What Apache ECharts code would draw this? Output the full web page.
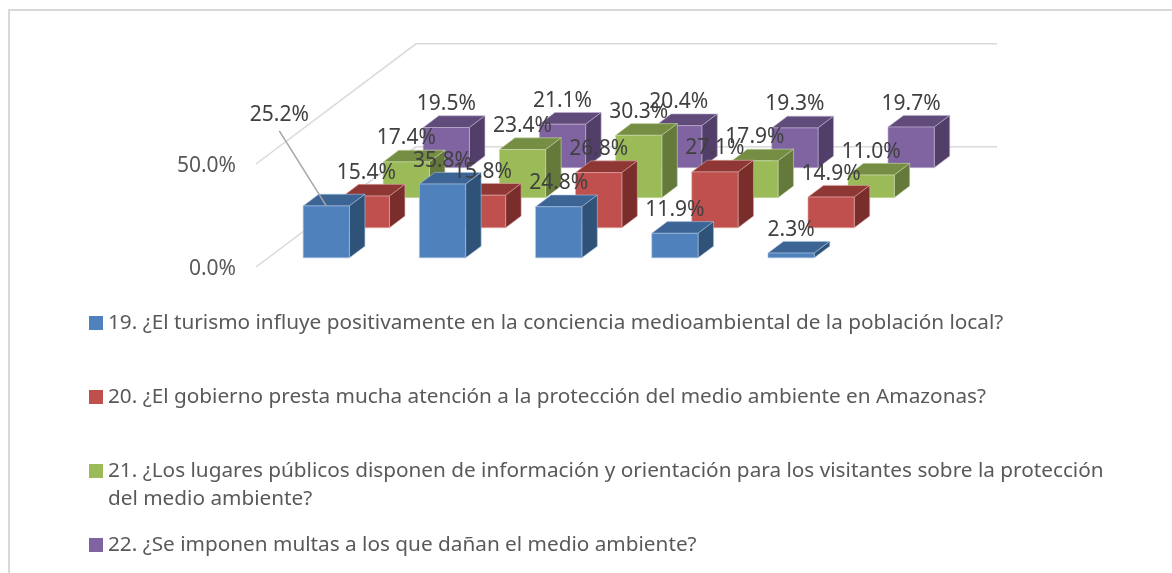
<!DOCTYPE html>
<html>
<head>
<meta charset="utf-8">
<style>html,body{margin:0;padding:0;background:#fff}#c{width:1172px;height:573px}</style>
<script src="https://cdn.jsdelivr.net/npm/echarts@6/dist/echarts.min.js"></script>
</head>
<body>
<div id="c"></div>
<script>
const categories = ['A', 'B', 'C', 'D', 'E'];
const q19 = [25.2, 35.8, 24.8, 11.9, 2.3];
const q20 = [15.4, 15.8, 26.8, 27.1, 14.9];
const q21 = [17.4, 23.4, 30.3, 17.9, 11.0];
const q22 = [19.5, 21.1, 20.4, 19.3, 19.7];
const legendLines = [
  ['19. ¿El turismo influye positivamente en la conciencia medioambiental de la población local?'],
  ['20. ¿El gobierno presta mucha atención a la protección del medio ambiente en Amazonas?'],
  ['21. ¿Los lugares públicos disponen de información y orientación para los visitantes sobre la protección', 'del medio ambiente?'],
  ['22. ¿Se imponen multas a los que dañan el medio ambiente?']
];
const valueTicks = [0, 50];

const seriesValues = [q19, q20, q21, q22];
const names = legendLines.map(l => l.join(' '));
const faces = ['#4f81bd', '#c0504d', '#9bbb59', '#8064a2'];
const tops = ['#3c6494', '#8e3735', '#758e43', '#604b7b'];
const sides = ['#2f5279', '#7a2e2c', '#64793a', '#523f69'];
const edges = ['#a9c2e0', '#dfa9a7', '#cddcac', '#bfb1d0'];
const STEP_X = 40, STEP_Y = 30.05, BOX_X = 15.5, BOX_Y = 11.7, BAR_RATIO = 0.398;
const FONT = '"Noto Sans", sans-serif';

function base(i) {
  const halfGapY = (STEP_Y - BOX_Y) / 2;
  return [STEP_X * i + halfGapY * STEP_X / STEP_Y, -(STEP_Y * i + halfGapY)];
}

function barSeries(i) {
  return {
    type: 'custom', name: names[i], z: 10 - i, silent: true,
    itemStyle: { color: faces[i] },
    encode: { x: 0, y: 1 },
    data: seriesValues[i].map((v, c) => [c, v]),
    renderItem(params, api) {
      const b = base(i);
      const w = api.size([1, 0])[0] * BAR_RATIO;
      const p0 = api.coord([api.value(0), 0]);
      const p1 = api.coord([api.value(0), api.value(1)]);
      const x0 = p0[0] - w / 2 + b[0], x1 = x0 + w;
      const yb = p0[1] + b[1], yt = p1[1] + b[1];
      const st = c => ({ fill: c, stroke: edges[i], lineWidth: 0.6, opacity: 1 });
      return {
        type: 'group',
        children: [
          { type: 'polygon', shape: { points: [[x0, yt], [x1, yt], [x1 + BOX_X, yt - BOX_Y], [x0 + BOX_X, yt - BOX_Y]] }, style: st(tops[i]) },
          { type: 'polygon', shape: { points: [[x1, yt], [x1 + BOX_X, yt - BOX_Y], [x1 + BOX_X, yb - BOX_Y], [x1, yb]] }, style: st(sides[i]) },
          { type: 'rect', shape: { x: x0, y: yt, width: w, height: yb - yt }, style: st(faces[i]) }
        ]
      };
    }
  };
}

function labelSeries(i) {
  return {
    type: 'custom', name: 'labels' + i, z: 20 + i, silent: true,
    encode: { x: 0, y: 1 },
    data: seriesValues[i].map((v, c) => [c, v]),
    renderItem(params, api) {
      const b = base(i);
      const p1 = api.coord([api.value(0), api.value(1)]);
      const cx = p1[0] + b[0], ty = p1[1] + b[1];
      const moved = i === 0 && api.value(0) === 0;
      const lx = moved ? cx - 47 : cx, ly = moved ? ty - 92 : ty - 25;
      const children = [{
        type: 'text',
        style: { text: api.value(1).toFixed(1) + '%', x: lx, y: ly + 1.5, align: 'center', verticalAlign: 'middle', fill: '#404040', font: '21px ' + FONT }
      }];
      if (moved) {
        children.unshift({ type: 'line', shape: { x1: lx, y1: ly + 17, x2: cx, y2: ty }, style: { stroke: '#a6a6a6', lineWidth: 1.5 } });
      }
      return { type: 'group', children };
    }
  };
}

const wallSeries = {
  type: 'custom', name: 'walls', z: 1, silent: true,
  encode: { x: 0, y: 1 },
  data: valueTicks.map(v => [0, v]),
  renderItem(params, api) {
    const y = api.coord([0, api.value(1)])[1];
    const r = params.coordSys;
    const dx = STEP_X * 4, dy = STEP_Y * 4;
    return {
      type: 'polyline',
      shape: { points: [[r.x, y], [r.x + dx, y - dy], [r.x + r.width + dx, y - dy]] },
      style: { fill: null, stroke: '#d9d9d9', lineWidth: 1.5 }
    };
  }
};

const legendTops = [309, 383, 429, 531];
const chart = echarts.init(document.getElementById('c'), null, { renderer: 'canvas' });
chart.setOption({
  animation: false,
  color: faces,
  backgroundColor: '#fff',
  graphic: [{ type: 'rect', silent: true, shape: { x: 9, y: 10, width: 1300, height: 700 }, style: { fill: null, stroke: '#d9d9d9', lineWidth: 2 } }],
  grid: { left: 256, top: 164, width: 581, height: 103 },
  xAxis: { type: 'category', data: categories, show: false },
  yAxis: {
    type: 'value', min: 0, max: 50, interval: 50,
    axisLine: { show: false }, axisTick: { show: false }, splitLine: { show: false },
    axisLabel: {
      margin: 20,
      formatter: v => '{t|' + v.toFixed(1) + '%}',
      rich: { t: { color: '#595959', fontFamily: FONT, fontSize: 21, padding: [5, 0, 0, 0] } }
    }
  },
  legend: legendLines.map((lines, i) => ({
    left: 89, top: legendTops[i], padding: 0, orient: 'vertical', icon: 'rect',
    itemWidth: 14, itemHeight: 14, selectedMode: false,
    data: [names[i]],
    textStyle: { color: '#595959', fontFamily: FONT, fontSize: 20.75, lineHeight: 28 },
    formatter: () => lines.length > 1 ? '\n' + lines.join('\n') : lines[0]
  })),
  series: [wallSeries, ...[0, 1, 2, 3].map(barSeries), ...[0, 1, 2, 3].map(labelSeries)]
});
</script>
</body>
</html>
